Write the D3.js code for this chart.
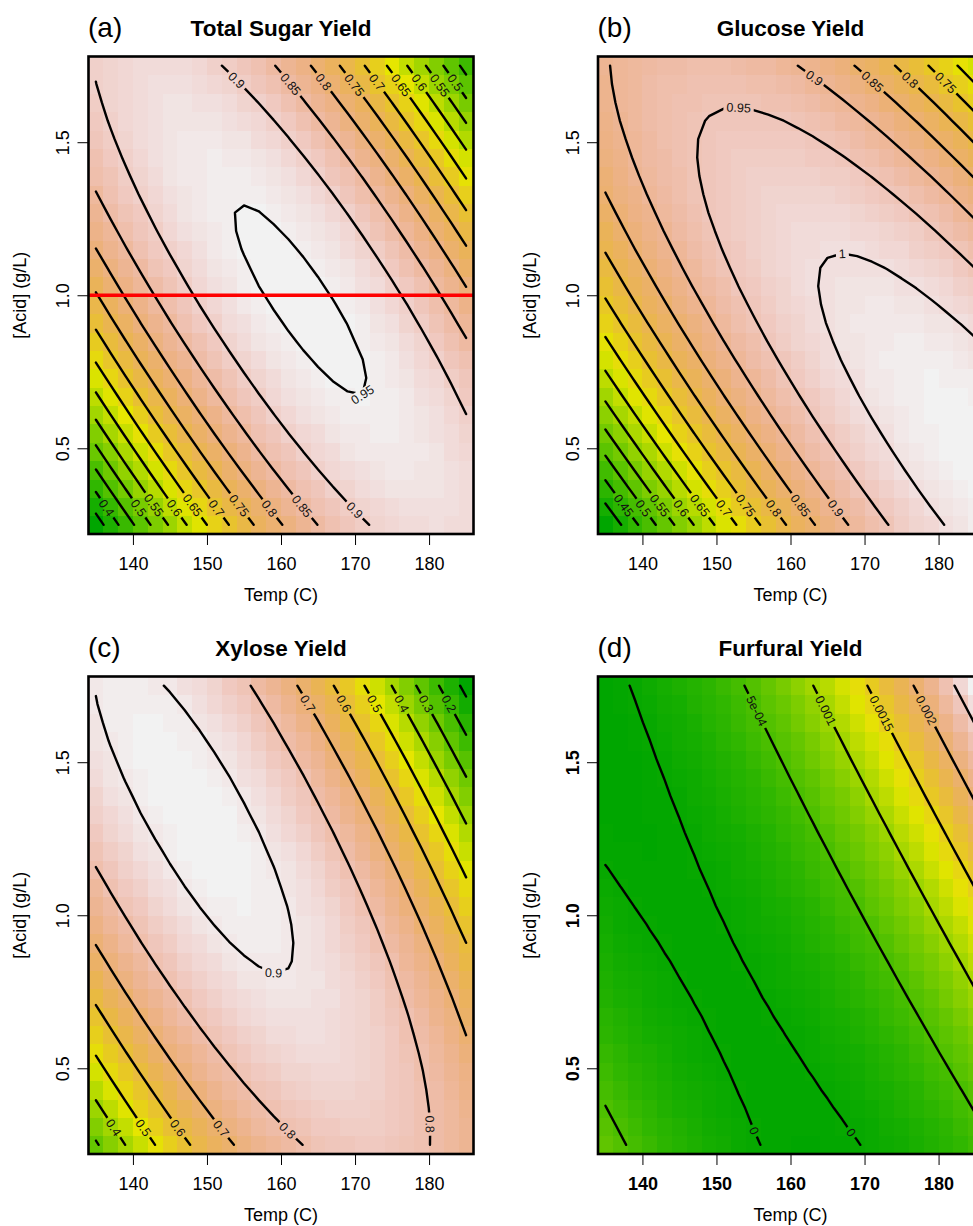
<!DOCTYPE html>
<html>
<head>
<meta charset="utf-8">
<title>Yield response surfaces</title>
<script src="https://d3js.org/d3.v7.min.js"></script>
<style>
body{
	margin: 0;
	background: #fff;
}
svg text{
	font-family: "Liberation Sans", Arial, Helvetica, sans-serif;
}
</style>
</head>
<body>
<div id="chart"></div>
<script>

// grid the surfaces are drawn on (cell centres)
var temps = [135, 137, 139, 141, 143, 145, 147, 149, 151, 153, 155, 157, 159,
             161, 163, 165, 167, 169, 171, 173, 175, 177, 179, 181, 183, 185];
var acids = [0.25, 0.31, 0.37, 0.43, 0.49, 0.55, 0.61, 0.67, 0.73, 0.79, 0.85, 0.91, 0.97,
             1.03, 1.09, 1.15, 1.21, 1.27, 1.33, 1.39, 1.45, 1.51, 1.57, 1.63, 1.69, 1.75];

// axis ticks
var tempTicks = [140, 150, 160, 170, 180];
var acidTicks = [0.5, 1.0, 1.5];
var acidTickLabels = ["0.5", "1.0", "1.5"];

var sugarPts = [
  [135,1.685,0.90],[135,1.336,0.85],[135,1.151,0.80],[135,1.009,0.75],[135,0.889,0.70],[135,0.780,0.65],
  [135,0.681,0.60],[135,0.594,0.55],[135,0.512,0.50],[135,0.430,0.45],[135,0.354,0.40],[135,0.288,0.35],
  [136.2,0.25,0.35],[138.0,0.25,0.40],[142.3,0.25,0.50],[152.8,0.25,0.70],[156.2,0.25,0.75],[160.3,0.25,0.80],
  [165.0,0.25,0.85],[171.3,0.25,0.90],
  [152.1,1.75,0.90],[159.1,1.75,0.85],[164.1,1.75,0.80],[167.9,1.75,0.75],[171.3,1.75,0.70],[174.4,1.75,0.65],
  [176.9,1.75,0.60],[179.4,1.75,0.55],[181.9,1.75,0.50],[184.1,1.75,0.45],
  [185,1.655,0.50],[185,1.573,0.55],[185,1.481,0.60],[185,1.367,0.65],[185,1.285,0.70],[185,1.158,0.75],
  [185,1.033,0.80],[185,0.856,0.85],[185,0.594,0.90],
  [154.9,1.309,0.95],[153.0,1.271,0.95],[159.4,0.921,0.95],[164.8,0.774,0.95],[170.4,0.730,0.95],
  [169.7,0.856,0.95],[167.0,1.000,0.95],[161.6,1.161,0.95],[157.1,1.282,0.95]
];
var glucosePts = [
  [135,1.697,0.90],[135,1.338,0.85],[135,1.145,0.80],[135,0.992,0.75],[135,0.872,0.70],[135,0.758,0.65],
  [135,0.659,0.60],[135,0.570,0.55],[135,0.477,0.50],[135,0.395,0.45],[135,0.315,0.40],
  [137.2,0.25,0.40],[139.2,0.25,0.45],[141.7,0.25,0.50],[146.9,0.25,0.60],[149.6,0.25,0.65],[152.5,0.25,0.70],
  [159.3,0.25,0.80],[163.3,0.25,0.85],[167.8,0.25,0.90],[173.4,0.25,0.95],[181.3,0.25,1.00],
  [161.3,1.75,0.90],[168.7,1.75,0.85],[173.9,1.75,0.80],[178.2,1.75,0.75],[182.0,1.75,0.70],
  [150.5,1.626,0.95],[147.0,1.478,0.95],[155.0,1.620,0.95],[163.1,1.511,0.95],[172.1,1.358,0.95],
  [184.6,1.205,0.95],[147.3,1.391,0.95],[149.6,1.205,0.95],[153.6,0.987,0.95],
  [167.4,1.069,1.00],[165.6,1.020,1.00],[174.3,1.020,1.00],[184.6,0.800,1.00],
  [137.0,1.555,0.90],[140.6,1.358,0.90],[147.1,0.987,0.90],[153.5,0.740,0.90]
];
var xylosePts = [
  [135,1.672,0.90],[135,1.159,0.80],[135,0.907,0.70],[135,0.712,0.60],[135,0.548,0.50],[135,0.401,0.40],
  [135,0.270,0.30],
  [135.5,0.25,0.30],[138.5,0.25,0.40],[142.5,0.25,0.50],[147.7,0.25,0.60],[153.7,0.25,0.70],[163.0,0.25,0.80],
  [180.0,0.25,0.80],
  [145.0,1.75,0.90],[156.0,1.75,0.80],[162.3,1.75,0.70],[167.0,1.75,0.60],[171.1,1.75,0.50],[174.4,1.75,0.40],
  [178.3,1.75,0.30],[181.2,1.75,0.20],[184.3,1.75,0.10],
  [185,1.720,0.10],[185,1.596,0.20],[185,1.459,0.30],[185,1.307,0.40],[185,1.121,0.50],[185,0.908,0.60],
  [185,0.602,0.70],
  [149.0,1.605,0.90],[153.5,1.443,0.90],[158.0,1.257,0.90],[161.2,1.028,0.90],[161.8,0.908,0.90],
  [160.9,0.810,0.90],[157.3,0.821,0.90],[154.4,0.864,0.90],[149.0,1.017,0.90],[145.9,1.181,0.90],
  [140.9,1.334,0.90],[136.9,1.531,0.90],
  [161.2,1.549,0.80],[175.1,0.807,0.80],[160.3,0.319,0.80]
];
var furfuralPts = [
  [135.2,1.165,0],[140.1,0.985,0],[145.1,0.799,0],[149.6,0.581,0],[153.6,0.362,0],[155.4,0.25,0],
  [138.6,1.75,0],[142.8,1.454,0],[150.3,1.017,0],[157.7,0.668,0],[164.9,0.417,0],[169.8,0.25,0],
  [153.9,1.75,0.0005],[158.6,1.509,0.0005],[163.1,1.312,0.0005],[169.4,1.017,0.0005],[176.6,0.690,0.0005],
  [181.5,0.488,0.0005],[135.1,0.373,0.0005],[137.9,0.25,0.0005],
  [163.1,1.75,0.001],[168.9,1.443,0.001],[178.8,1.017,0.001],[181.5,0.908,0.001],
  [170.3,1.75,0.0015],[176.1,1.509,0.0015],[181.1,1.269,0.0015],
  [176.6,1.75,0.002],[181.8,1.520,0.002],
  [182.0,1.75,0.0025]
];

// contour levels and their printed labels
var sugarLevels = [0.3, 0.35, 0.4, 0.45, 0.5, 0.55, 0.6, 0.65, 0.7, 0.75, 0.8, 0.85, 0.9, 0.95, 1.0];
var sugarLabels = ["0.3","0.35","0.4","0.45","0.5","0.55","0.6","0.65","0.7","0.75","0.8","0.85","0.9","0.95","1"];
var glucoseLevels = [0.35, 0.4, 0.45, 0.5, 0.55, 0.6, 0.65, 0.7, 0.75, 0.8, 0.85, 0.9, 0.95, 1.0, 1.05];
var glucoseLabels = ["0.35","0.4","0.45","0.5","0.55","0.6","0.65","0.7","0.75","0.8","0.85","0.9","0.95","1","1.05"];
var xyloseLevels = [0, 0.1, 0.2, 0.3, 0.4, 0.5, 0.6, 0.7, 0.8, 0.9, 1.0];
var xyloseLabels = ["0","0.1","0.2","0.3","0.4","0.5","0.6","0.7","0.8","0.9","1"];
var furfuralLevels = [0, 0.0005, 0.001, 0.0015, 0.002, 0.0025, 0.003];
var furfuralLabels = ["0","5e-04","0.001","0.0015","0.002","0.0025","0.003"];

var panels = [
	{tag: "(a)", title: "Total Sugar Yield", pts: sugarPts, levels: sugarLevels, labels: sugarLabels, col: 0, row: 0, boldTicks: false, refAcid: 1.0},
	{tag: "(b)", title: "Glucose Yield", pts: glucosePts, levels: glucoseLevels, labels: glucoseLabels, col: 1, row: 0, boldTicks: false},
	{tag: "(c)", title: "Xylose Yield", pts: xylosePts, levels: xyloseLevels, labels: xyloseLabels, col: 0, row: 1, boldTicks: false},
	{tag: "(d)", title: "Furfural Yield", pts: furfuralPts, levels: furfuralLevels, labels: furfuralLabels, col: 1, row: 1, boldTicks: true}
];

var width = 973, height = 1226;
var plotW = 385, plotH = 477.5;
var colX = [88.5, 598], rowY = [56.5, 676.5];
var labelSize = 12.5;

var svg = d3.select("#chart")
	.append("svg")
	.attr("width", width)
	.attr("height", height);
var defs = svg.append("defs");

// R's terrain.colors(n)
function hsv(h, s, v) {
	var i = Math.floor(h * 6), f = h * 6 - i;
	var p = v * (1 - s), q = v * (1 - f * s), t = v * (1 - (1 - f) * s);
	var c = [[v, t, p], [q, v, p], [p, v, t], [p, q, v], [t, p, v], [v, p, q]][((i % 6) + 6) % 6];
	return d3.rgb(c[0] * 255, c[1] * 255, c[2] * 255).formatHex();
}
function terrainColors(n) {
	var k = Math.floor(n / 2);
	var seq = function(a, b, m) { return d3.range(m).map(function(i) { return m === 1 ? a : a + (b - a) * i / (m - 1); }); };
	var h1 = seq(4/12, 2/12, k), v1 = seq(0.65, 0.9, k);
	var h2 = seq(2/12, 0, n - k + 1).slice(1), s2 = seq(1, 0, n - k + 1).slice(1), v2 = seq(0.9, 0.95, n - k + 1).slice(1);
	return h1.map(function(h, i) { return hsv(h, 1, v1[i]); })
		.concat(h2.map(function(h, i) { return hsv(h, s2[i], v2[i]); }));
}

// quadratic response surface fitted (least squares) to the read points
function basis(t, a) {
	var u = (t - 160) / 25, v = (a - 1) / 0.75;
	return [1, u, v, u * u, v * v, u * v];
}
function fitSurface(pts) {
	var n = 6, M = [], b = [];
	for (var i = 0; i < n; i++) { M.push(new Array(n).fill(0)); b.push(0); }
	pts.forEach(function(p) {
		var r = basis(p[0], p[1]);
		for (var i = 0; i < n; i++) {
			b[i] += r[i] * p[2];
			for (var j = 0; j < n; j++) M[i][j] += r[i] * r[j];
		}
	});
	for (var c = 0; c < n; c++) {
		var piv = c;
		for (var r2 = c + 1; r2 < n; r2++) if (Math.abs(M[r2][c]) > Math.abs(M[piv][c])) piv = r2;
		var tm = M[c]; M[c] = M[piv]; M[piv] = tm;
		var tb = b[c]; b[c] = b[piv]; b[piv] = tb;
		for (var r3 = c + 1; r3 < n; r3++) {
			var f = M[r3][c] / M[c][c];
			for (var j2 = c; j2 < n; j2++) M[r3][j2] -= f * M[c][j2];
			b[r3] -= f * b[c];
		}
	}
	var coef = new Array(n).fill(0);
	for (var c2 = n - 1; c2 >= 0; c2--) {
		var s = b[c2];
		for (var j3 = c2 + 1; j3 < n; j3++) s -= M[c2][j3] * coef[j3];
		coef[c2] = s / M[c2][c2];
	}
	return function(t, a) { return d3.sum(basis(t, a), function(v, i) { return v * coef[i]; }); };
}

// cut a d3.contours ring where it runs along the grid border -> open contour lines
function splitRing(ring, nx, ny) {
	var onEdge = function(q) { return q[0] <= 0 || q[0] >= nx || q[1] <= 0 || q[1] >= ny; };
	var pts = ring.slice();
	var last = pts[pts.length - 1];
	if (last[0] === pts[0][0] && last[1] === pts[0][1]) pts.pop();
	var k = pts.findIndex(onEdge);
	if (k < 0) return [{closed: true, pts: pts}];
	pts = pts.slice(k).concat(pts.slice(0, k));
	var parts = [], cur = [];
	pts.concat([pts[0]]).forEach(function(q) {
		if (onEdge(q)) { if (cur.length > 1) parts.push({closed: false, pts: cur}); cur = []; }
		else cur.push(q);
	});
	return parts;
}

function edgeRank(q, nx, ny) {
	var e = 1e-6;
	if (q[1] <= 0.5 + e) return 0;       // bottom
	if (q[1] >= ny - 0.5 - e) return 1;  // top
	if (q[0] <= 0.5 + e) return 2;       // left
	if (q[0] >= nx - 0.5 - e) return 3;  // right
	return 4;
}

function textWidth(s) {
	var w = {".": 0.278, "-": 0.333};
	return d3.sum(s.split(""), function(ch) { return w[ch] || 0.556; }) * labelSize;
}

function pointAt(pts, cum, s, closed) {
	var L = cum[cum.length - 1];
	if (closed) s = ((s % L) + L) % L; else s = Math.max(0, Math.min(L, s));
	var k = d3.bisectRight(cum, s) - 1;
	if (k >= pts.length - 1) k = pts.length - 2;
	if (k < 0) k = 0;
	var seg = cum[k + 1] - cum[k] || 1, f = (s - cum[k]) / seg;
	var p0 = pts[k], p1 = pts[k + 1];
	return [p0[0] + (p1[0] - p0[0]) * f, p0[1] + (p1[1] - p0[1]) * f];
}

function corners(r) {
	var c = Math.cos(r.ang), s = Math.sin(r.ang);
	return [[-1, -1], [1, -1], [1, 1], [-1, 1]].map(function(d) {
		return [r.cx + d[0] * r.hw * c - d[1] * r.hh * s, r.cy + d[0] * r.hw * s + d[1] * r.hh * c];
	});
}
function overlap(a, b) {
	var ca = corners(a), cb = corners(b);
	var axes = [a.ang, a.ang + Math.PI / 2, b.ang, b.ang + Math.PI / 2];
	return axes.every(function(t) {
		var ax = [Math.cos(t), Math.sin(t)];
		var pa = ca.map(function(p) { return p[0] * ax[0] + p[1] * ax[1]; });
		var pb = cb.map(function(p) { return p[0] * ax[0] + p[1] * ax[1]; });
		return !(d3.max(pa) + 2 < d3.min(pb) || d3.max(pb) + 2 < d3.min(pa));
	});
}

// angle (deg) between the first and last stretch of an open line
function bend(pts, cum) {
	var L = cum[cum.length - 1], d = Math.min(20, L / 4);
	var a0 = pointAt(pts, cum, 0), a1 = pointAt(pts, cum, d);
	var b0 = pointAt(pts, cum, L - d), b1 = pointAt(pts, cum, L);
	var t0 = Math.atan2(a1[1] - a0[1], a1[0] - a0[0]), t1 = Math.atan2(b1[1] - b0[1], b1[0] - b0[0]);
	var dt = Math.abs(t1 - t0) * 180 / Math.PI;
	return dt > 180 ? 360 - dt : dt;
}

function placeLabels(lines, box) {
	var placed = [];
	lines.forEach(function(ln) {
		var pts = ln.pts, cum = [0];
		for (var k = 1; k < pts.length; k++) cum.push(cum[k - 1] + Math.hypot(pts[k][0] - pts[k - 1][0], pts[k][1] - pts[k - 1][1]));
		if (ln.closed) {
			pts = pts.concat([pts[0]]);
			cum.push(cum[cum.length - 1] + Math.hypot(pts[0][0] - pts[pts.length - 2][0], pts[0][1] - pts[pts.length - 2][1]));
		}
		var L = cum[cum.length - 1];
		var hw = textWidth(ln.label) / 2 + 3, hh = labelSize * 0.45;
		var cands = [], d;
		if (ln.closed) {
			// start from the lowest point of a closed contour
			var low = d3.maxIndex(pts, function(p) { return p[1]; });
			for (d = 0; d <= L / 2; d += 5) { cands.push(cum[low] + d); if (d) cands.push(cum[low] - d); }
		} else if (bend(pts, cum) > 100) {
			// U-shaped line: start at its turning point (highest or lowest, away from the ends)
			var endY = (pts[0][1] + pts[pts.length - 1][1]) / 2;
			var iTop = d3.minIndex(pts, function(p) { return p[1]; }), iBot = d3.maxIndex(pts, function(p) { return p[1]; });
			var apex = Math.abs(pts[iTop][1] - endY) > Math.abs(pts[iBot][1] - endY) ? iTop : iBot;
			for (d = 0; d <= L; d += 5) {
				if (cum[apex] + d <= L - hw - 3) cands.push(cum[apex] + d);
				if (d && cum[apex] - d >= hw + 3) cands.push(cum[apex] - d);
			}
		} else {
			for (var s = hw + 9; s <= L - hw - 3; s += 6) cands.push(s);
		}
		for (var i = 0; i < cands.length; i++) {
			var c = cands[i];
			var p = pointAt(pts, cum, c, ln.closed);
			var q0 = pointAt(pts, cum, c - hw * 0.8, ln.closed), q1 = pointAt(pts, cum, c + hw * 0.8, ln.closed);
			var ang = Math.atan2(q1[1] - q0[1], q1[0] - q0[0]);
			if (ang > Math.PI / 2) ang -= Math.PI;
			if (ang <= -Math.PI / 2) ang += Math.PI;
			var r = {cx: p[0], cy: p[1], ang: ang, hw: hw, hh: hh, label: ln.label};
			var inside = corners(r).every(function(q) { return q[0] > box[0] && q[0] < box[2] && q[1] > box[1] && q[1] < box[3]; });
			if (!inside) continue;
			if (placed.some(function(o) { return overlap(o, r); })) continue;
			placed.push(r);
			break;
		}
	});
	return placed;
}

function drawPanel(p, idx) {
	var left = colX[p.col], top = rowY[p.row], right = left + plotW, bottom = top + plotH;
	var nT = temps.length, nA = acids.length;
	var dT = (temps[1] - temps[0]) / 2, dA = (acids[1] - acids[0]) / 2;

	var x = d3.scaleLinear().domain([temps[0] - dT, temps[nT - 1] + dT]).range([left, right]);
	var y = d3.scaleLinear().domain([acids[0] - dA, acids[nA - 1] + dA]).range([bottom, top]);
	// d3.contours grid space -> data space
	var gx = d3.scaleLinear().domain([0.5, nT - 0.5]).range([temps[0], temps[nT - 1]]);
	var gy = d3.scaleLinear().domain([0.5, nA - 0.5]).range([acids[0], acids[nA - 1]]);

	var surf = fitSurface(p.pts);
	var values = [], cells = [];
	acids.forEach(function(a) {
		temps.forEach(function(t) {
			var v = surf(t, a);
			values.push(v);
			cells.push({t: t, a: a, v: v});
		});
	});
	var color = d3.scaleQuantize().domain(d3.extent(values)).range(terrainColors(100));

	var g = svg.append("g");

	// image cells
	g.append("g")
		.attr("shape-rendering", "crispEdges")
		.selectAll("rect")
		.data(cells)
		.join("rect")
		.attr("x", function(d) { return x(d.t - dT); })
		.attr("y", function(d) { return y(d.a + dA); })
		.attr("width", function(d) { return x(d.t + dT) - x(d.t - dT) + 0.6; })
		.attr("height", function(d) { return y(d.a - dA) - y(d.a + dA) + 0.6; })
		.attr("fill", function(d) { return color(d.v); });

	// contour lines
	var lines = [];
	d3.contours().size([nT, nA]).thresholds(p.levels)(values).forEach(function(c) {
		var lab = p.labels[p.levels.indexOf(c.value)];
		c.coordinates.forEach(function(poly) {
			poly.forEach(function(ring) {
				splitRing(ring, nT, nA).forEach(function(part) {
					var gp = part.pts;
					if (!part.closed && edgeRank(gp[gp.length - 1], nT, nA) < edgeRank(gp[0], nT, nA)) gp = gp.slice().reverse();
					lines.push({
						label: lab,
						closed: part.closed,
						pts: gp.map(function(q) { return [x(gx(q[0])), y(gy(q[1]))]; })
					});
				});
			});
		});
	});

	var spots = placeLabels(lines, [left + 2, top + 2, right - 2, bottom - 2]);

	var maskId = "gaps" + idx;
	var mask = defs.append("mask")
		.attr("id", maskId)
		.attr("maskUnits", "userSpaceOnUse")
		.attr("x", left - 10).attr("y", top - 10)
		.attr("width", plotW + 20).attr("height", plotH + 20);
	mask.append("rect")
		.attr("x", left - 10).attr("y", top - 10)
		.attr("width", plotW + 20).attr("height", plotH + 20)
		.attr("fill", "white");
	mask.selectAll("rect.gap")
		.data(spots)
		.join("rect")
		.attr("class", "gap")
		.attr("x", function(d) { return -d.hw; })
		.attr("y", function(d) { return -d.hh; })
		.attr("width", function(d) { return 2 * d.hw; })
		.attr("height", function(d) { return 2 * d.hh; })
		.attr("transform", function(d) { return "translate(" + d.cx + "," + d.cy + ") rotate(" + (d.ang * 180 / Math.PI) + ")"; })
		.attr("fill", "black");

	var line = d3.line();
	g.append("g")
		.attr("mask", "url(#" + maskId + ")")
		.selectAll("path")
		.data(lines)
		.join("path")
		.attr("d", function(d) { return line(d.pts) + (d.closed ? "Z" : ""); })
		.attr("fill", "none")
		.attr("stroke", "#000")
		.attr("stroke-width", 2.4)
		.attr("stroke-linejoin", "round")
		.attr("stroke-linecap", "round");

	g.append("g")
		.selectAll("text")
		.data(spots)
		.join("text")
		.attr("transform", function(d) { return "translate(" + d.cx + "," + d.cy + ") rotate(" + (d.ang * 180 / Math.PI) + ")"; })
		.attr("text-anchor", "middle")
		.attr("dy", "0.36em")
		.attr("font-size", labelSize)
		.attr("fill", "#111")
		.text(function(d) { return d.label; });

	// reference line
	if (p.refAcid !== undefined) {
		g.append("line")
			.attr("x1", left).attr("x2", right)
			.attr("y1", y(p.refAcid)).attr("y2", y(p.refAcid))
			.attr("stroke", "#ff0000")
			.attr("stroke-width", 3.3);
	}

	// box
	g.append("rect")
		.attr("x", left).attr("y", top)
		.attr("width", plotW).attr("height", plotH)
		.attr("fill", "none")
		.attr("stroke", "#000")
		.attr("stroke-width", 2.6);

	// axes
	var xAxis = g.append("g")
		.attr("transform", "translate(0," + bottom + ")")
		.call(d3.axisBottom(x).tickValues(tempTicks).tickSize(11).tickSizeOuter(0).tickPadding(12.5));
	xAxis.select(".domain").remove();
	xAxis.attr("font-family", null);
	xAxis.selectAll("text")
		.attr("font-size", 18)
		.attr("font-weight", p.boldTicks ? "bold" : null)
		.attr("fill", "#000");

	var yAxis = g.append("g")
		.attr("transform", "translate(" + left + ",0)")
		.call(d3.axisLeft(y).tickValues(acidTicks).tickFormat(function(d, i) { return acidTickLabels[i]; }).tickSize(11).tickSizeOuter(0));
	yAxis.select(".domain").remove();
	yAxis.attr("font-family", null);
	yAxis.selectAll("text")
		.attr("x", null)
		.attr("dy", null)
		.attr("transform", "translate(-19.5,0) rotate(-90)")
		.attr("text-anchor", "middle")
		.attr("font-size", 18)
		.attr("font-weight", p.boldTicks ? "bold" : null)
		.attr("fill", "#000");

	// titles
	g.append("text")
		.attr("x", left - 0.5)
		.attr("y", top - 19.5)
		.attr("font-size", 28)
		.text(p.tag);
	g.append("text")
		.attr("x", (left + right) / 2)
		.attr("y", top - 21)
		.attr("text-anchor", "middle")
		.attr("font-size", 22.5)
		.attr("font-weight", "bold")
		.text(p.title);
	g.append("text")
		.attr("x", (left + right) / 2)
		.attr("y", bottom + 66.5)
		.attr("text-anchor", "middle")
		.attr("font-size", 18)
		.text("Temp (C)");
	g.append("text")
		.attr("transform", "translate(" + (left - 62.5) + "," + ((top + bottom) / 2) + ") rotate(-90)")
		.attr("text-anchor", "middle")
		.attr("font-size", 18)
		.text("[Acid] (g/L)");
}

panels.forEach(drawPanel);

</script>
</body>
</html>
